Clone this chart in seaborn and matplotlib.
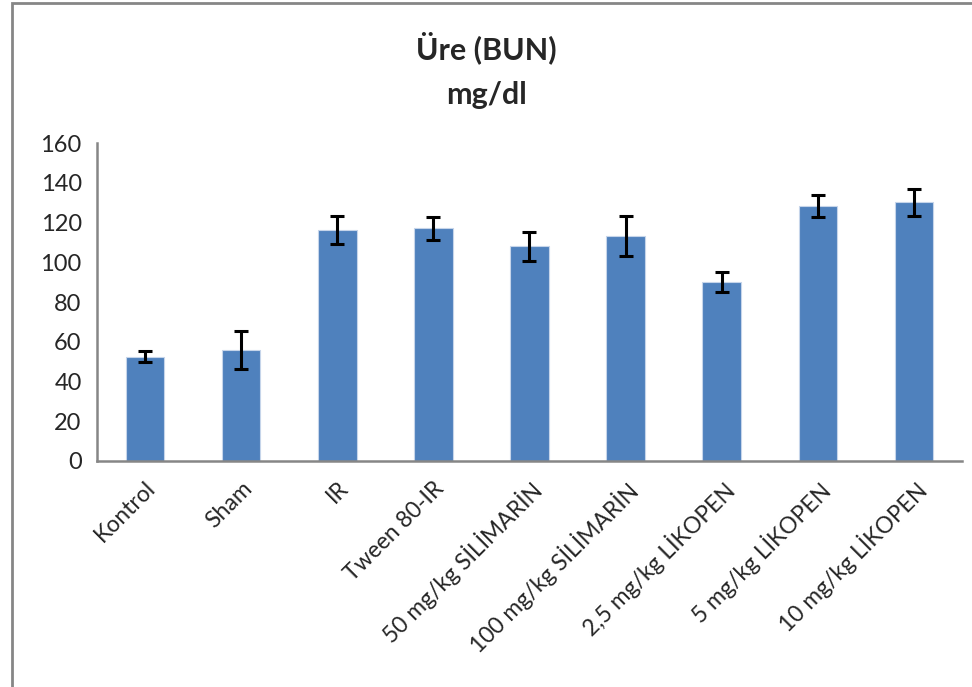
import numpy as np
import pandas as pd
import seaborn as sns
import matplotlib.pyplot as plt
from matplotlib.patches import Rectangle

# data
groups = ["Kontrol", "Sham", "IR", "Tween 80-IR", "50 mg/kg SİLİMARİN",
          "100 mg/kg SİLİMARİN", "2,5 mg/kg LİKOPEN", "5 mg/kg LİKOPEN",
          "10 mg/kg LİKOPEN"]
bun_mean = [52.5, 55.8, 116.3, 117.0, 108.0, 113.2, 89.9, 128.3, 130.1]
bun_err = [2.7, 9.5, 7.2, 5.9, 7.4, 10.2, 5.0, 5.5, 6.7]

df = pd.DataFrame({"group": groups, "bun": bun_mean})

sns.set_style("white")
plt.rcParams["font.family"] = ["Lato", "DejaVu Sans"]

bar_color = "#4F81BD"
axis_grey = "#868686"

fig = plt.figure(figsize=(9.72, 6.87), dpi=100)
ax = fig.add_axes([0.0998, 0.329, 0.8899, 0.4628])

sns.barplot(data=df, x="group", y="bun", color=bar_color, width=0.4,
            saturation=1, edgecolor="#C6D5EA", linewidth=0.8, ax=ax)
ax.errorbar(groups, bun_mean, yerr=bun_err, fmt="none", ecolor="black",
            elinewidth=2.2, capsize=5, capthick=2.2)

ax.set_ylim(0, 160)
ax.set_yticks(np.arange(0, 161, 20))
ax.set_xlim(-0.5, len(groups) - 0.5)
ax.set_xlabel("")
ax.set_ylabel("")

# category boundary ticks like the spreadsheet chart
ax.set_xticks(np.arange(-0.5, len(groups), 1.0), minor=True)
ax.tick_params(axis="x", which="minor", length=7, width=1.5, color=axis_grey)
ax.tick_params(axis="x", which="major", length=0, pad=12)
ax.tick_params(axis="y", length=6, width=1.5, color=axis_grey, pad=5)
ax.set_xticks(range(len(groups)))
ax.set_xticklabels(groups, rotation=45, ha="right", rotation_mode="anchor",
                   fontsize=16.5)
for lbl in ax.get_yticklabels():
    lbl.set_fontsize(17)

for side in ["top", "right"]:
    ax.spines[side].set_visible(False)
for side in ["left", "bottom"]:
    ax.spines[side].set_color(axis_grey)
    ax.spines[side].set_linewidth(1.8)

fig.text(0.5, 0.93, "Üre (BUN)", ha="center", va="center",
         fontsize=22, fontweight="bold")
fig.text(0.5, 0.862, "mg/dl", ha="center", va="center",
         fontsize=22, fontweight="bold")

# outer chart frame (partly cut off at right and bottom)
frame = Rectangle((12 / 972, -0.2), 1.2, 1.2 - 3 / 687, transform=fig.transFigure,
                  fill=False, edgecolor=axis_grey, linewidth=2, clip_on=False)
fig.patches.append(frame)

fig.savefig("out.png", dpi=100)
